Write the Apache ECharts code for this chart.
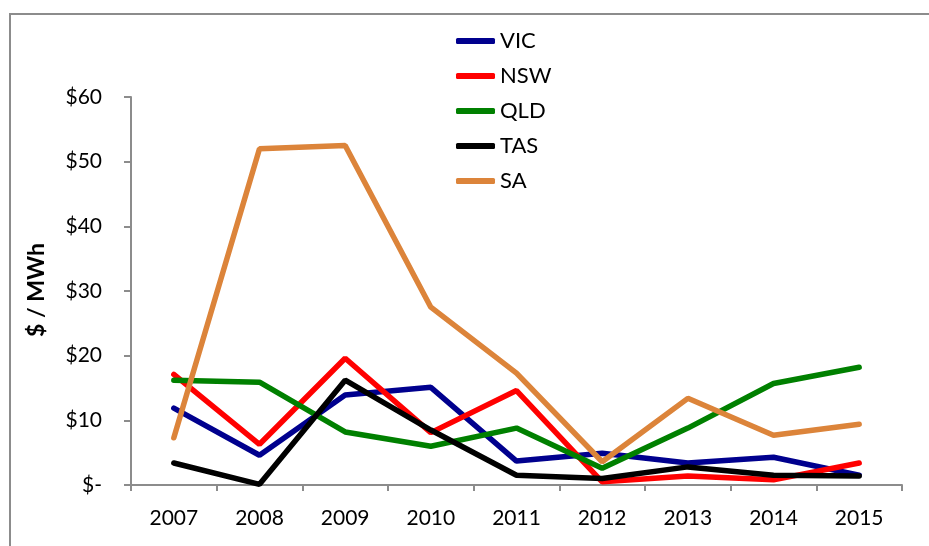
<!DOCTYPE html>
<html>
<head>
<meta charset="utf-8">
<script src="https://cdn.jsdelivr.net/npm/echarts@6/dist/echarts.min.js"></script>
<style>
html,body{margin:0;padding:0;background:#fff;}
#chart{width:929px;height:546px;}
</style>
</head>
<body>
<div id="chart"></div>
<script>
const categories = ['2007','2008','2009','2010','2011','2012','2013','2014','2015'];
const VIC = [11.9, 4.6, 13.9, 15.1, 3.7, 4.9, 3.4, 4.3, 1.5];
const NSW = [17.1, 6.3, 19.6, 8.1, 14.6, 0.5, 1.4, 0.8, 3.4];
const QLD = [16.2, 15.9, 8.2, 6.0, 8.8, 2.6, 8.8, 15.7, 18.2];
const TAS = [3.4, 0.1, 16.2, 8.5, 1.5, 1.0, 2.8, 1.5, 1.4];
const SA  = [7.3, 52.0, 52.5, 27.5, 17.3, 3.6, 13.4, 7.7, 9.4];
const yTicks = [0, 10, 20, 30, 40, 50, 60];

const seriesDefs = [
  {name:'VIC', data:VIC, color:'#00008E'},
  {name:'NSW', data:NSW, color:'#FF0000'},
  {name:'QLD', data:QLD, color:'#008000'},
  {name:'TAS', data:TAS, color:'#000000'},
  {name:'SA',  data:SA,  color:'#DC843A'}
];

const chart = echarts.init(document.getElementById('chart'));
const font = 'Lato, "Open Sans", sans-serif';
chart.setOption({
  animation: false,
  backgroundColor: '#fff',
  textStyle: {fontFamily: font},
  graphic: [
    {type:'rect', shape:{x:10, y:14, width:1000, height:1000}, style:{fill:'none', stroke:'#8c8c8c', lineWidth:2}, silent:true},
    {type:'text', x:37, y:290, rotation:Math.PI/2, style:{text:'$ / MWh', fontFamily:font, fontSize:23, fontWeight:'bold', fill:'#000', textAlign:'center', textVerticalAlign:'middle'}}
  ],
  legend: {
    orient: 'vertical',
    left: 451,
    top: 25,
    itemWidth: 39,
    itemHeight: 6,
    itemGap: 13,
    icon: 'roundRect',
    textStyle: {fontFamily: font, fontSize: 22, color: '#000', lineHeight: 22},
    data: seriesDefs.map(s => s.name)
  },
  grid: {left: 131, right: 27, top: 97, bottom: 61, containLabel: false},
  xAxis: {
    type: 'category',
    data: categories,
    boundaryGap: true,
    axisLine: {lineStyle: {color: '#8c8c8c', width: 2}},
    axisTick: {show: true, length: 6, lineStyle: {color: '#8c8c8c', width: 2}},
    axisLabel: {color: '#000', fontSize: 21, fontFamily: font, margin: 23}
  },
  yAxis: {
    type: 'value',
    min: 0, max: 60, interval: 10,
    axisLine: {show: true, lineStyle: {color: '#8c8c8c', width: 2}},
    axisTick: {show: true, length: 7, lineStyle: {color: '#8c8c8c', width: 2}},
    splitLine: {show: false},
    axisLabel: {color: '#000', fontSize: 21, fontFamily: font, margin: 29,
      formatter: v => yTicks.includes(v) ? (v === 0 ? '$-' : '$' + v) : ''}
  },
  series: seriesDefs.map(s => ({
    name: s.name,
    type: 'line',
    data: s.data,
    symbol: 'none',
    color: s.color,
    lineStyle: {width: 5.5, color: s.color, cap: 'round'},
    itemStyle: {color: s.color}
  }))
});
</script>
</body>
</html>
